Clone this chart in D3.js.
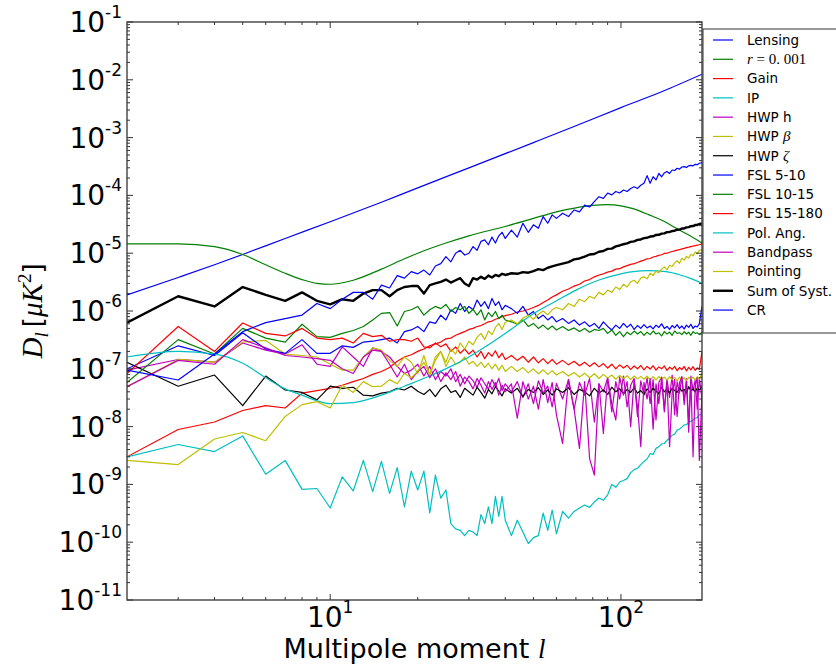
<!DOCTYPE html>
<html>
<head>
<meta charset="utf-8">
<script src="https://cdn.jsdelivr.net/npm/d3@7"></script>
<style>
  body { margin: 0; background: #fff; }
  svg { display: block; font-family: "DejaVu Sans", sans-serif; }
</style>
</head>
<body>
<div id="chart"></div>
<script>
// multipole grid shared by the noisy curves
const ell = [2,3,4,5,6,7,8,9,10,11,12,13,14,15,16,17,18,19,20,21,
  22,23,24,25,26,27,28,29,30,31,32,33,34,35,36,37,38,39,40,
  42,44,46,48,50,52,54,56,58,60,
  63,66,69,72,75,78,81,84,87,90,93,96,99,102,105,108,111,114,117,120,
  123,126,129,132,135,138,141,144,147,150,153,156,159,162,165,168,171,174,177,180,183,186,190];

// smooth curves have their own sampling
const lensingEll = [2,3,4,5,7,10,15,20,30,50,70,100,140,190];
const lensing = [1.9e-6,3.8e-6,6.3e-6,9.5e-6,1.8e-5,3.5e-5,7.6e-5,1.35e-4,3.0e-4,8.2e-4,1.6e-3,3.3e-3,6.4e-3,1.25e-2];

const rEll = [2,3,4,5,6,7,8,9,10,12,15,18,20,25,30,40,50,60,70,80,90,100,110,125,140,155,170,190];
const r001 = [1.45e-5,1.45e-5,1.3e-5,9.5e-6,6.3e-6,4.5e-6,3.5e-6,3.0e-6,2.9e-6,3.4e-6,5.3e-6,8.0e-6,1.0e-5,1.5e-5,2.0e-5,
  2.9e-5,4.0e-5,5.2e-5,6.1e-5,6.7e-5,6.9e-5,6.6e-5,5.9e-5,4.6e-5,3.6e-5,2.7e-5,2.1e-5,1.5e-5];

const polAngEll = [2,3,4,5,6,7,8,9,10,12,15,18,22,26,30,35,40,50,60,70,85,100,110,125,143,160,175,190];
const polAng = [1.6e-7,2.0e-7,1.8e-7,1.25e-7,7.0e-8,4.5e-8,3.5e-8,2.8e-8,2.5e-8,2.6e-8,3.5e-8,5.0e-8,7.5e-8,1.1e-7,1.6e-7,
  2.6e-7,4.1e-7,9.0e-7,1.5e-6,2.3e-6,3.5e-6,4.4e-6,4.8e-6,5.0e-6,4.8e-6,4.2e-6,3.6e-6,3.0e-6];

const gain = [3.0e-9,8.9e-9,1.2e-8,1.9e-8,2.3e-8,2.1e-8,3.8e-8,4.2e-8,4.6e-8,5.2e-8,6.0e-8,6.8e-8,8.0e-8,9.0e-8,1.05e-7,1.35e-7,1.6e-7,1.75e-7,2.0e-7,2.2e-7,
  2.5e-7,2.7e-7,2.9e-7,3.3e-7,3.4e-7,3.8e-7,4.1e-7,4.4e-7,4.8e-7,5.0e-7,5.4e-7,5.6e-7,6.0e-7,6.5e-7,6.7e-7,7.2e-7,7.5e-7,8.0e-7,8.3e-7,
  8.8e-7,9.6e-7,1.0e-6,1.06e-6,1.15e-6,1.25e-6,1.4e-6,1.55e-6,1.75e-6,1.9e-6,
  2.2e-6,2.4e-6,2.7e-6,2.9e-6,3.3e-6,3.5e-6,3.9e-6,4.2e-6,4.4e-6,4.7e-6,4.9e-6,5.3e-6,5.4e-6,5.8e-6,6.1e-6,6.4e-6,6.6e-6,6.9e-6,7.3e-6,7.6e-6,
  8.0e-6,8.1e-6,8.6e-6,8.8e-6,9.2e-6,9.4e-6,9.9e-6,1.0e-5,1.04e-5,1.07e-5,1.1e-5,1.13e-5,1.15e-5,1.19e-5,1.21e-5,1.25e-5,1.27e-5,1.3e-5,1.33e-5,1.35e-5,1.38e-5,1.4e-5,1.45e-5];

const ip = [3.0e-9,4.9e-9,3.7e-9,6.9e-9,1.5e-9,2.6e-9,8.2e-10,8.5e-10,3.9e-10,1.35e-9,7.7e-10,2.6e-9,7.5e-10,2.5e-9,7.0e-10,1.95e-9,4.1e-10,1.7e-9,8.0e-10,1.7e-9,
  3.2e-10,1.45e-9,5.8e-10,8.0e-10,2.1e-10,1.7e-10,1.6e-10,1.3e-10,1.6e-10,1.5e-10,1.3e-10,3.0e-10,2.1e-10,4.1e-10,2.1e-10,6.2e-10,2.8e-10,6.2e-10,2.4e-10,
  1.3e-10,2.4e-10,1.5e-10,9.5e-11,1.2e-10,1.3e-10,3.2e-10,1.6e-10,3.6e-10,1.4e-10,
  3.4e-10,2.6e-10,3.4e-10,3.9e-10,4.4e-10,4.0e-10,5.0e-10,5.8e-10,5.3e-10,6.6e-10,1.0e-9,8.9e-10,1.1e-9,1.17e-9,1.26e-9,1.6e-9,1.8e-9,1.9e-9,2.2e-9,2.5e-9,
  2.75e-9,3.4e-9,3.3e-9,4.2e-9,4.5e-9,5.0e-9,5.1e-9,5.8e-9,6.3e-9,7.1e-9,7.4e-9,8.7e-9,9.1e-9,9.8e-9,1.07e-8,1.08e-8,1.2e-8,1.23e-8,1.3e-8,1.4e-8,1.43e-8,1.6e-8,1.65e-8];

const hwpH = [9.5e-8,1.45e-7,1.3e-7,2.8e-7,2.1e-7,1.8e-7,2.6e-7,1.2e-7,1.1e-7,2.4e-7,1.6e-7,1.1e-7,2.3e-7,2.0e-7,1.6e-7,1.1e-7,8.3e-8,9.5e-8,1.2e-7,7.5e-8,
  1.1e-7,6.5e-8,9.0e-8,7.5e-8,1.0e-7,6.0e-8,8.0e-8,5.5e-8,7.5e-8,6.2e-8,4.8e-8,7.0e-8,5.5e-8,4.5e-8,6.5e-8,5.0e-8,6.8e-8,4.2e-8,5.5e-8,
  4.0e-8,6.0e-8,3.2e-8,5.5e-8,2.5e-8,6.2e-8,3.8e-8,5.0e-8,2.2e-8,5.6e-8,
  3.0e-8,6.5e-8,2.0e-8,5.8e-8,3.5e-8,6.8e-8,1.2e-8,5.5e-8,4.0e-8,7.0e-8,1.8e-8,6.0e-8,3.0e-8,7.5e-8,2.2e-8,5.2e-8,6.8e-8,1.5e-8,6.2e-8,3.5e-8,
  7.0e-8,2.5e-8,6.5e-8,1.3e-8,5.8e-8,7.2e-8,2.0e-8,6.6e-8,3.2e-8,7.8e-8,1.6e-8,6.0e-8,3.8e-8,7.3e-8,2.4e-8,6.8e-8,1.1e-8,7.5e-8,4.2e-8,6.4e-8,2.0e-8,7.0e-8,3.0e-8];

const hwpBeta = [4.9e-8,1.45e-7,1.3e-7,2.9e-7,3.1e-7,1.8e-7,1.7e-7,1.6e-7,1.2e-7,9.5e-8,9.5e-8,1.6e-7,2.3e-7,2.1e-7,1.4e-7,1.1e-7,1.6e-7,1.3e-7,8.3e-8,1.7e-7,
  7.8e-8,1.4e-7,2.0e-7,1.1e-7,1.6e-7,1.2e-7,1.3e-7,1.6e-7,1.2e-7,1.35e-7,1.1e-7,1.3e-7,1.05e-7,1.25e-7,1.0e-7,1.2e-7,9.5e-8,1.15e-7,9.0e-8,
  1.1e-7,9.0e-8,1.05e-7,8.5e-8,1.0e-7,8.2e-8,9.6e-8,8.0e-8,9.3e-8,7.8e-8,
  9.0e-8,7.5e-8,8.6e-8,7.2e-8,8.4e-8,7.0e-8,8.2e-8,6.8e-8,8.0e-8,6.9e-8,7.8e-8,6.6e-8,7.7e-8,6.8e-8,7.6e-8,6.5e-8,7.5e-8,6.7e-8,7.4e-8,6.6e-8,
  7.5e-8,6.5e-8,7.3e-8,6.4e-8,7.4e-8,6.6e-8,7.2e-8,6.3e-8,7.3e-8,6.5e-8,7.1e-8,6.2e-8,7.2e-8,6.4e-8,7.0e-8,6.3e-8,7.1e-8,6.5e-8,7.2e-8,6.4e-8,7.3e-8,6.6e-8,8.5e-8];

const hwpZeta = [1.3e-7,5.0e-8,7.8e-8,2.3e-8,7.5e-8,4.3e-8,3.9e-8,2.9e-8,5.0e-8,4.6e-8,4.8e-8,3.5e-8,3.4e-8,3.8e-8,4.0e-8,4.6e-8,4.3e-8,5.0e-8,4.1e-8,3.6e-8,
  4.4e-8,3.3e-8,4.5e-8,5.2e-8,3.9e-8,4.2e-8,3.2e-8,4.6e-8,4.0e-8,3.5e-8,4.8e-8,3.9e-8,3.1e-8,4.4e-8,3.7e-8,4.9e-8,4.1e-8,3.4e-8,4.5e-8,
  3.8e-8,4.6e-8,3.3e-8,4.4e-8,3.9e-8,4.7e-8,3.6e-8,4.3e-8,3.5e-8,4.5e-8,
  3.9e-8,4.7e-8,3.6e-8,4.4e-8,4.0e-8,3.4e-8,4.6e-8,3.8e-8,4.3e-8,3.6e-8,4.8e-8,4.0e-8,4.5e-8,3.7e-8,4.4e-8,3.9e-8,4.7e-8,3.8e-8,4.2e-8,3.6e-8,
  4.5e-8,3.9e-8,4.6e-8,4.1e-8,3.7e-8,4.8e-8,4.0e-8,4.4e-8,3.8e-8,4.6e-8,4.2e-8,3.9e-8,4.7e-8,4.1e-8,4.4e-8,3.8e-8,4.9e-8,4.2e-8,4.5e-8,4.0e-8,4.6e-8,4.3e-8,4.8e-8];

const fsl5to10 = [1.0e-7,2.5e-7,1.7e-7,4.2e-7,2.2e-7,1.85e-7,3.2e-7,1.85e-7,1.85e-7,2.5e-7,2.35e-7,2.9e-7,3.0e-7,3.2e-7,3.4e-7,2.8e-7,4.4e-7,4.7e-7,5.4e-7,4.4e-7,
  6.5e-7,6.1e-7,8.5e-7,7.0e-7,1.05e-6,9.1e-7,1.35e-6,9.8e-7,1.2e-6,1.05e-6,1.55e-6,1.2e-6,1.45e-6,1.1e-6,1.65e-6,1.25e-6,1.45e-6,1.05e-6,1.25e-6,
  1.1e-6,9.1e-7,1.2e-6,8.5e-7,9.8e-7,7.4e-7,8.5e-7,7.0e-7,8.0e-7,6.5e-7,
  7.4e-7,6.1e-7,7.0e-7,5.7e-7,6.5e-7,5.4e-7,6.1e-7,5.0e-7,6.5e-7,5.4e-7,4.7e-7,5.7e-7,5.0e-7,6.1e-7,5.2e-7,5.9e-7,4.8e-7,5.6e-7,5.0e-7,5.8e-7,
  5.1e-7,5.5e-7,4.9e-7,5.7e-7,5.2e-7,6.0e-7,5.0e-7,5.4e-7,4.8e-7,5.6e-7,5.1e-7,5.8e-7,5.0e-7,5.5e-7,4.9e-7,5.7e-7,5.2e-7,5.9e-7,5.0e-7,5.5e-7,5.3e-7,6.0e-7,1.2e-6];

const fsl10to15 = [5.8e-8,3.2e-7,1.8e-7,5.0e-7,3.4e-7,2.9e-7,5.9e-7,3.6e-7,3.5e-7,4.1e-7,4.6e-7,5.4e-7,7.0e-7,9.1e-7,9.4e-7,5.5e-7,9.8e-7,1.05e-6,1.2e-6,8.5e-7,
  1.05e-6,1.2e-6,1.1e-6,1.3e-6,9.8e-7,1.15e-6,1.05e-6,1.2e-6,9.1e-7,1.07e-6,8.5e-7,1.05e-6,7.0e-7,9.4e-7,8.0e-7,9.8e-7,7.4e-7,8.5e-7,7.0e-7,
  6.5e-7,5.9e-7,7.0e-7,5.4e-7,6.1e-7,5.0e-7,5.7e-7,4.8e-7,5.5e-7,4.7e-7,
  5.4e-7,4.6e-7,5.1e-7,4.4e-7,5.0e-7,4.3e-7,4.8e-7,4.6e-7,5.0e-7,4.1e-7,4.7e-7,3.8e-7,4.4e-7,3.6e-7,4.3e-7,3.9e-7,4.5e-7,4.0e-7,4.4e-7,3.8e-7,
  4.3e-7,3.9e-7,4.5e-7,4.0e-7,4.2e-7,3.7e-7,4.4e-7,4.0e-7,4.3e-7,3.8e-7,4.5e-7,4.1e-7,4.2e-7,3.9e-7,4.4e-7,4.0e-7,4.3e-7,3.8e-7,4.4e-7,4.1e-7,4.2e-7,3.9e-7,4.3e-7];

const fsl15to180 = [8.3e-8,5.4e-7,2.0e-7,6.2e-7,4.1e-7,3.7e-7,5.0e-7,3.4e-7,3.2e-7,3.4e-7,2.8e-7,4.1e-7,3.6e-7,3.8e-7,3.0e-7,3.2e-7,3.2e-7,3.0e-7,3.4e-7,2.4e-7,
  2.3e-7,2.8e-7,2.4e-7,2.7e-7,2.0e-7,2.4e-7,1.86e-7,2.2e-7,1.8e-7,2.1e-7,1.6e-7,2.0e-7,1.5e-7,1.9e-7,1.65e-7,2.05e-7,1.55e-7,1.86e-7,1.45e-7,
  1.7e-7,1.4e-7,1.65e-7,1.3e-7,1.6e-7,1.27e-7,1.5e-7,1.23e-7,1.45e-7,1.2e-7,
  1.4e-7,1.17e-7,1.35e-7,1.13e-7,1.3e-7,1.1e-7,1.27e-7,1.08e-7,1.23e-7,1.03e-7,1.2e-7,1.0e-7,1.17e-7,1.03e-7,1.15e-7,9.8e-8,1.12e-7,1.0e-7,1.14e-7,9.6e-8,
  1.1e-7,9.9e-8,1.13e-7,9.5e-8,1.08e-7,1.0e-7,1.12e-7,9.4e-8,1.07e-7,9.8e-8,1.1e-7,9.3e-8,1.05e-7,9.7e-8,1.1e-7,9.2e-8,1.06e-7,9.6e-8,1.09e-7,9.4e-8,1.04e-7,9.8e-8,2.0e-7];

const bandpass = [4.9e-8,1.4e-7,1.2e-7,3.2e-7,2.3e-7,1.7e-7,1.6e-7,1.5e-7,1.4e-7,1.0e-7,8.3e-8,1.6e-7,2.1e-7,2.0e-7,1.2e-7,7.2e-8,1.2e-7,6.5e-8,9.0e-8,1.1e-7,
  7.0e-8,1.0e-7,6.0e-8,8.5e-8,6.5e-8,9.0e-8,5.0e-8,7.2e-8,6.0e-8,4.5e-8,6.8e-8,5.2e-8,3.8e-8,6.0e-8,4.4e-8,5.8e-8,3.5e-8,5.2e-8,4.0e-8,
  5.5e-8,1.4e-8,6.0e-8,3.0e-8,5.0e-8,2.0e-8,6.5e-8,2.6e-8,5.8e-8,1.6e-8,
  5.1e-9,6.5e-8,2.0e-8,4.2e-9,6.0e-8,2.8e-9,1.45e-9,5.5e-8,7.6e-9,6.8e-8,2.5e-8,1.3e-8,7.2e-8,3.5e-8,6.0e-8,1.0e-8,6.5e-8,2.2e-8,4.5e-9,5.8e-8,
  3.0e-8,6.8e-8,9.0e-9,5.5e-8,2.5e-8,7.0e-8,1.8e-8,6.2e-8,4.5e-9,3.8e-8,6.5e-8,1.5e-8,5.8e-8,7.2e-8,2.8e-8,6.0e-8,8.0e-9,6.6e-8,3.0e-9,5.0e-8,7.0e-8,2.6e-9,4.0e-8];

const pointing = [2.6e-9,2.2e-9,6.1e-9,7.9e-9,5.7e-9,1.5e-8,2.4e-8,2.7e-8,2.1e-8,5.2e-8,3.9e-8,6.0e-8,4.9e-8,5.0e-8,6.5e-8,5.5e-8,8.3e-8,7.0e-8,9.0e-8,1.3e-7,
  8.0e-8,1.6e-7,2.0e-7,1.3e-7,2.2e-7,1.8e-7,2.8e-7,2.2e-7,3.0e-7,2.6e-7,3.5e-7,4.1e-7,3.2e-7,4.5e-7,3.9e-7,5.2e-7,6.1e-7,4.8e-7,6.4e-7,
  7.0e-7,6.0e-7,7.5e-7,8.5e-7,7.2e-7,8.8e-7,1.0e-6,8.6e-7,1.05e-6,1.15e-6,
  1.05e-6,1.35e-6,1.2e-6,1.6e-6,1.45e-6,1.8e-6,1.65e-6,2.1e-6,1.9e-6,2.3e-6,2.1e-6,2.6e-6,2.35e-6,2.9e-6,2.6e-6,3.2e-6,3.4e-6,3.0e-6,3.7e-6,3.9e-6,
  3.6e-6,4.5e-6,4.1e-6,4.9e-6,4.6e-6,5.3e-6,5.8e-6,5.2e-6,6.2e-6,5.9e-6,6.8e-6,7.4e-6,6.7e-6,8.2e-6,7.6e-6,8.8e-6,8.3e-6,9.6e-6,9.0e-6,1.05e-5,9.8e-6,1.12e-5,1.14e-5];

const sumSyst = [6.3e-7,1.8e-6,1.2e-6,2.6e-6,1.9e-6,1.5e-6,2.1e-6,1.5e-6,1.3e-6,1.6e-6,1.5e-6,2.0e-6,2.3e-6,2.3e-6,1.8e-6,2.3e-6,2.6e-6,2.7e-6,2.7e-6,2.0e-6,
  2.8e-6,3.0e-6,3.2e-6,3.5e-6,3.1e-6,3.4e-6,3.7e-6,3.0e-6,2.7e-6,3.7e-6,3.5e-6,3.9e-6,3.6e-6,4.1e-6,3.8e-6,4.2e-6,4.0e-6,4.4e-6,4.2e-6,
  4.5e-6,4.4e-6,4.7e-6,4.6e-6,4.9e-6,5.3e-6,5.1e-6,5.6e-6,5.9e-6,6.2e-6,
  6.6e-6,7.0e-6,7.8e-6,8.1e-6,8.7e-6,9.5e-6,9.7e-6,1.06e-5,1.09e-5,1.19e-5,1.2e-5,1.31e-5,1.36e-5,1.43e-5,1.48e-5,1.57e-5,1.6e-5,1.7e-5,1.73e-5,1.82e-5,
  1.85e-5,1.94e-5,1.96e-5,2.07e-5,2.08e-5,2.18e-5,2.2e-5,2.32e-5,2.33e-5,2.42e-5,2.45e-5,2.55e-5,2.56e-5,2.67e-5,2.68e-5,2.8e-5,2.83e-5,2.93e-5,2.95e-5,3.07e-5,3.08e-5,3.2e-5,3.25e-5];

const cr = [9.5e-8,6.4e-8,1.8e-7,4.4e-7,6.3e-7,7.4e-7,8.5e-7,1.35e-6,1.1e-6,1.6e-6,2.1e-6,2.1e-6,1.6e-6,2.8e-6,2.5e-6,4.1e-6,3.7e-6,4.8e-6,4.4e-6,5.1e-6,
  4.2e-6,6.0e-6,6.6e-6,8.7e-6,7.1e-6,1.0e-5,1.12e-5,9.3e-6,1.0e-5,1.3e-5,1.12e-5,1.6e-5,1.7e-5,1.4e-5,1.9e-5,1.5e-5,2.0e-5,2.3e-5,1.8e-5,
  2.5e-5,1.9e-5,3.3e-5,2.3e-5,3.1e-5,2.7e-5,4.3e-5,3.3e-5,4.6e-5,4.0e-5,
  4.9e-5,4.3e-5,5.6e-5,5.2e-5,6.8e-5,6.3e-5,7.8e-5,9.5e-5,8.9e-5,1.1e-4,1.02e-4,1.17e-4,1.1e-4,1.24e-4,1.17e-4,1.32e-4,1.41e-4,1.32e-4,1.5e-4,1.62e-4,
  2.2e-4,1.62e-4,2.1e-4,1.85e-4,2.4e-4,2.1e-4,2.45e-4,2.6e-4,2.4e-4,2.75e-4,2.7e-4,2.95e-4,2.85e-4,3.1e-4,3.15e-4,3.05e-4,3.25e-4,3.3e-4,3.25e-4,3.45e-4,3.4e-4,3.6e-4,3.7e-4];

const seriesNames = ["Lensing", "r = 0.001", "Gain", "IP", "HWP h", "HWP \u03b2", "HWP \u03b6",
  "FSL 5-10", "FSL 10-15", "FSL 15-180", "Pol. Ang.", "Bandpass", "Pointing", "Sum of Syst.", "CR"];

const xMajorTicks = [10, 100];
const xTickExps = ["1", "2"];
const yMajorTicks = [1e-11, 1e-10, 1e-9, 1e-8, 1e-7, 1e-6, 1e-5, 1e-4, 1e-3, 1e-2, 1e-1];
const yTickExps = ["-11", "-10", "-9", "-8", "-7", "-6", "-5", "-4", "-3", "-2", "-1"];

// classic matplotlib colour cycle
const colors = ["#0000ff", "#008000", "#ff0000", "#00bfbf", "#bf00bf", "#bfbf00", "#000000",
  "#0000ff", "#008000", "#ff0000", "#00bfbf", "#bf00bf", "#bfbf00", "#000000", "#0000ff"];

const svgWidth = 836, svgHeight = 668;
const margin = { top: 22, right: 134, bottom: 68, left: 127 };
const width = svgWidth - margin.left - margin.right;
const height = svgHeight - margin.top - margin.bottom;
const serif = "'Liberation Serif', 'DejaVu Serif', serif";

const svg = d3.select("#chart").append("svg")
    .attr("width", svgWidth)
    .attr("height", svgHeight);

svg.append("rect")
    .attr("width", svgWidth)
    .attr("height", svgHeight)
    .attr("fill", "#fff");

const g = svg.append("g")
    .attr("transform", `translate(${margin.left},${margin.top})`);

const x = d3.scaleLog().domain([2, 190]).range([0, width]);
const y = d3.scaleLog().domain([1e-11, 1e-1]).range([height, 0]);

g.append("clipPath").attr("id", "plot-clip")
    .append("rect").attr("width", width).attr("height", height);

const series = [
    { xs: lensingEll, ys: lensing, smooth: true },
    { xs: rEll, ys: r001, smooth: true },
    { xs: ell, ys: gain },
    { xs: ell, ys: ip },
    { xs: ell, ys: hwpH },
    { xs: ell, ys: hwpBeta },
    { xs: ell, ys: hwpZeta },
    { xs: ell, ys: fsl5to10 },
    { xs: ell, ys: fsl10to15 },
    { xs: ell, ys: fsl15to180 },
    { xs: polAngEll, ys: polAng, smooth: true },
    { xs: ell, ys: bandpass },
    { xs: ell, ys: pointing },
    { xs: ell, ys: sumSyst, lw: 2.4 },
    { xs: ell, ys: cr }
];

const lines = g.append("g").attr("clip-path", "url(#plot-clip)");

series.forEach((s, i) => {
    const line = d3.line()
        .x(d => x(d[0]))
        .y(d => y(d[1]))
        .curve(s.smooth ? d3.curveMonotoneX : d3.curveLinear);

    lines.append("path")
        .datum(d3.zip(s.xs, s.ys))
        .attr("fill", "none")
        .attr("stroke", colors[i])
        .attr("stroke-width", s.lw || 1.2)
        .attr("stroke-linejoin", "round")
        .attr("d", line);
});

// ticks on all four sides, pointing inwards
const yMinor = [];
yMajorTicks.slice(0, -1).forEach(v => {
    for (let m = 2; m <= 9; m++) yMinor.push(v * m);
});
const xMinor = [3, 4, 5, 6, 7, 8, 9, 20, 30, 40, 50, 60, 70, 80, 90];

const tickColor = "#333";
function yTick(v, len) {
    g.append("line").attr("x1", 0).attr("x2", len).attr("y1", y(v)).attr("y2", y(v))
        .attr("stroke", tickColor).attr("stroke-width", 1);
    g.append("line").attr("x1", width).attr("x2", width - len).attr("y1", y(v)).attr("y2", y(v))
        .attr("stroke", tickColor).attr("stroke-width", 1);
}
function xTick(v, len) {
    g.append("line").attr("x1", x(v)).attr("x2", x(v)).attr("y1", height).attr("y2", height - len)
        .attr("stroke", tickColor).attr("stroke-width", 1);
    g.append("line").attr("x1", x(v)).attr("x2", x(v)).attr("y1", 0).attr("y2", len)
        .attr("stroke", tickColor).attr("stroke-width", 1);
}
yMinor.forEach(v => yTick(v, 3));
yMajorTicks.forEach(v => yTick(v, 6));
xMinor.forEach(v => xTick(v, 3));
xMajorTicks.forEach(v => xTick(v, 6));

g.append("rect")
    .attr("width", width)
    .attr("height", height)
    .attr("fill", "none")
    .attr("stroke", tickColor)
    .attr("stroke-width", 1.3);

// tick labels 10^k
yMajorTicks.forEach((v, i) => {
    const t = g.append("text")
        .attr("x", -5)
        .attr("y", y(v) + 10)
        .attr("text-anchor", "end")
        .attr("font-size", 28)
        .attr("fill", "#000");
    t.append("tspan").text("10");
    t.append("tspan").attr("font-size", 17).attr("dy", -14).text(yTickExps[i]);
});

xMajorTicks.forEach((v, i) => {
    const t = g.append("text")
        .attr("x", x(v))
        .attr("y", height + 27)
        .attr("text-anchor", "middle")
        .attr("font-size", 28)
        .attr("fill", "#000");
    t.append("tspan").text("10");
    t.append("tspan").attr("font-size", 17).attr("dy", -14).text(xTickExps[i]);
});

// axis titles
const xTitle = g.append("text")
    .attr("x", width / 2)
    .attr("y", height + 58)
    .attr("text-anchor", "middle")
    .attr("font-size", 27);
xTitle.append("tspan").text("Multipole moment ");
xTitle.append("tspan").attr("font-family", serif).attr("font-style", "italic").text("l");

const yTitle = svg.append("text")
    .attr("transform", `translate(42,${margin.top + height / 2}) rotate(-90)`)
    .attr("text-anchor", "middle")
    .attr("font-size", 26);
yTitle.append("tspan").attr("font-family", serif).attr("font-style", "italic").attr("font-size", 29).text("D");
yTitle.append("tspan").attr("font-family", serif).attr("font-style", "italic")
    .attr("font-size", 19).attr("dy", 6).text("l");
yTitle.append("tspan").attr("dy", -6).text("\u2009[");
yTitle.append("tspan").attr("font-family", serif).attr("font-style", "italic").attr("font-size", 29).text("\u03bcK");
yTitle.append("tspan").attr("font-family", serif).attr("font-size", 19).attr("dy", -11).text("2");
yTitle.append("tspan").attr("dy", 11).text("]");

// legend, partly cut off by the right edge
const legend = svg.append("g").attr("transform", "translate(703,29)");
legend.append("rect")
    .attr("width", 200)
    .attr("height", 304)
    .attr("fill", "#fff")
    .attr("stroke", "#333")
    .attr("stroke-width", 1);

seriesNames.forEach((name, i) => {
    const cy = 11 + i * 19.29;
    legend.append("line")
        .attr("x1", 10).attr("x2", 30)
        .attr("y1", cy).attr("y2", cy)
        .attr("stroke", colors[i])
        .attr("stroke-width", series[i].lw || 1.2);

    const t = legend.append("text")
        .attr("x", 44)
        .attr("y", cy)
        .attr("dy", "0.36em")
        .attr("font-size", 13.5);
    if (name.startsWith("r =")) {
        t.append("tspan").attr("font-family", serif).attr("font-style", "italic").attr("font-size", 15).text("r");
        t.append("tspan").attr("font-family", serif).attr("font-size", 15).text(" = 0. 001");
    } else if (name.startsWith("HWP \u03b2") || name.startsWith("HWP \u03b6")) {
        t.append("tspan").text("HWP ");
        t.append("tspan").attr("font-family", serif).attr("font-style", "italic").attr("font-size", 15).text(name.slice(4));
    } else {
        t.text(name);
    }
});
</script>
</body>
</html>
